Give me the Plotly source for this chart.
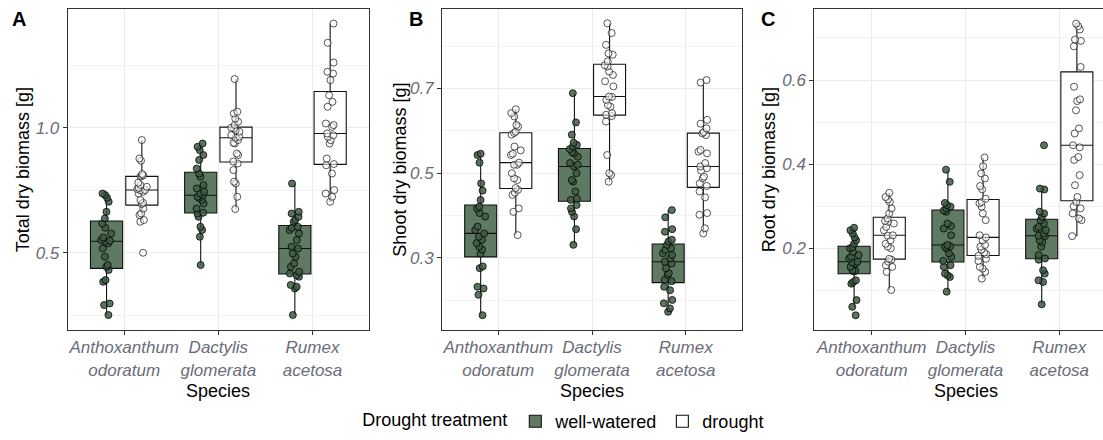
#!/usr/bin/env python3
# -*- coding:utf-8 -*-

from typing import List

import plotly.graph_objects as go


SPECIES        = ['Anthoxanthum odoratum', 'Dactylis glomerata', 'Rumex acetosa']
SPECIES_LABELS = ['Anthoxanthum<br>odoratum', 'Dactylis<br>glomerata', 'Rumex<br>acetosa']
TREATMENTS     = ['well-watered', 'drought']

PANEL_LETTERS  = ['A', 'B', 'C']
Y_TITLES       = ['Total dry biomass [g]', 'Shoot dry biomass [g]', 'Root dry biomass [g]']

#===== A: total dry biomass [g] =====#
TOTAL_WW_AO = [0.737, 0.731, 0.72, 0.704, 0.664, 0.637, 0.617, 0.60, 0.577, 0.561, 0.551, 0.548,
	0.544, 0.537, 0.517, 0.484, 0.451, 0.444, 0.431, 0.391, 0.384, 0.297, 0.291, 0.251]
TOTAL_DR_AO = [0.951, 0.877, 0.868, 0.815, 0.81, 0.807, 0.805, 0.78, 0.771, 0.764, 0.76, 0.755,
	0.751, 0.75, 0.744, 0.737, 0.711, 0.70, 0.695, 0.677, 0.657, 0.651, 0.631, 0.624, 0.50]
TOTAL_WW_DG = [0.937, 0.924, 0.911, 0.891, 0.871, 0.837, 0.817, 0.804, 0.771, 0.757, 0.744, 0.737,
	0.73, 0.724, 0.72, 0.711, 0.697, 0.677, 0.66, 0.657, 0.644, 0.604, 0.591, 0.564, 0.451]
TOTAL_DR_DG = [1.195, 1.064, 1.057, 1.037, 1.024, 1.011, 1.0, 0.997, 0.99, 0.984, 0.971, 0.964,
	0.96, 0.951, 0.94, 0.937, 0.897, 0.891, 0.865, 0.857, 0.831, 0.784, 0.777, 0.724, 0.675]
TOTAL_WW_RA = [0.777, 0.664, 0.657, 0.644, 0.631, 0.624, 0.604, 0.60, 0.591, 0.577, 0.551, 0.524,
	0.517, 0.497, 0.484, 0.457, 0.444, 0.424, 0.417, 0.41, 0.404, 0.371, 0.364, 0.357, 0.251]
TOTAL_DR_RA = [1.417, 1.34, 1.261, 1.224, 1.217, 1.191, 1.13, 1.104, 1.084, 1.017, 1.011, 1.004,
	0.977, 0.97, 0.964, 0.95, 0.937, 0.877, 0.855, 0.85, 0.817, 0.751, 0.737, 0.724, 0.704]

#===== B: shoot dry biomass [g] =====#
SHOOT_WW_AO = [0.546, 0.543, 0.525, 0.476, 0.459, 0.437, 0.421, 0.417, 0.406, 0.398, 0.374, 0.366,
	0.358, 0.35, 0.343, 0.335, 0.327, 0.32, 0.31, 0.28, 0.276, 0.232, 0.228, 0.213, 0.165]
SHOOT_DR_AO = [0.651, 0.642, 0.634, 0.614, 0.61, 0.598, 0.595, 0.591, 0.563, 0.554, 0.546, 0.543,
	0.525, 0.52, 0.52, 0.50, 0.488, 0.484, 0.465, 0.461, 0.454, 0.449, 0.417, 0.409, 0.354]
SHOOT_WW_DG = [0.689, 0.62, 0.591, 0.572, 0.567, 0.563, 0.557, 0.55, 0.547, 0.539, 0.524, 0.52,
	0.516, 0.50, 0.484, 0.48, 0.457, 0.44, 0.437, 0.425, 0.417, 0.409, 0.398, 0.368, 0.331]
SHOOT_DR_DG = [0.854, 0.831, 0.803, 0.783, 0.78, 0.764, 0.755, 0.752, 0.74, 0.732, 0.717, 0.705,
	0.681, 0.68, 0.673, 0.661, 0.657, 0.642, 0.638, 0.635, 0.622, 0.543, 0.50, 0.496, 0.48]
SHOOT_WW_RA = [0.413, 0.396, 0.368, 0.362, 0.343, 0.339, 0.331, 0.323, 0.319, 0.311, 0.307, 0.299,
	0.291, 0.287, 0.276, 0.264, 0.26, 0.248, 0.245, 0.232, 0.224, 0.201, 0.193, 0.181, 0.173]
SHOOT_DR_RA = [0.72, 0.714, 0.626, 0.617, 0.606, 0.597, 0.594, 0.59, 0.555, 0.551, 0.547, 0.524,
	0.516, 0.512, 0.506, 0.492, 0.488, 0.476, 0.47, 0.457, 0.443, 0.406, 0.402, 0.37, 0.358]

#===== C: root dry biomass [g] =====#
ROOT_WW_AO = [0.249, 0.243, 0.235, 0.226, 0.219, 0.211, 0.203, 0.2, 0.192, 0.184, 0.18, 0.176,
	0.168, 0.167, 0.164, 0.156, 0.148, 0.147, 0.145, 0.124, 0.12, 0.116, 0.077, 0.061, 0.041]
ROOT_DR_AO = [0.332, 0.322, 0.316, 0.31, 0.295, 0.283, 0.271, 0.265, 0.263, 0.259, 0.251, 0.243,
	0.231, 0.23, 0.219, 0.211, 0.204, 0.2, 0.173, 0.175, 0.168, 0.16, 0.156, 0.144, 0.101]
ROOT_WW_DG = [0.387, 0.358, 0.308, 0.303, 0.299, 0.295, 0.29, 0.287, 0.259, 0.253, 0.247, 0.231,
	0.208, 0.205, 0.204, 0.2, 0.188, 0.18, 0.17, 0.16, 0.156, 0.14, 0.136, 0.132, 0.097]
ROOT_DR_DG = [0.416, 0.395, 0.378, 0.366, 0.348, 0.34, 0.318, 0.31, 0.307, 0.299, 0.283, 0.267,
	0.231, 0.226, 0.219, 0.208, 0.204, 0.197, 0.19, 0.186, 0.182, 0.175, 0.17, 0.156, 0.152,
	0.144, 0.128]
ROOT_WW_RA = [0.445, 0.342, 0.34, 0.287, 0.283, 0.275, 0.267, 0.259, 0.251, 0.247, 0.243, 0.235,
	0.23, 0.229, 0.219, 0.215, 0.204, 0.184, 0.176, 0.173, 0.148, 0.14, 0.124, 0.12, 0.067]
ROOT_DR_RA = [0.734, 0.728, 0.72, 0.696, 0.693, 0.68, 0.631, 0.584, 0.554, 0.55, 0.528, 0.485,
	0.473, 0.445, 0.44, 0.417, 0.41, 0.374, 0.35, 0.322, 0.31, 0.3, 0.295, 0.283, 0.271, 0.267,
	0.229]


FONT       = 'Liberation Sans, Arial, sans-serif'
TICK_GREY  = '#6b6b78'
FRAME      = '#333333'
GRID       = '#ebebeb'

STYLES = {
	'well-watered': {
		'fill':   '#5e7a62',
		'marker': 'rgba(62,92,67,0.85)',
		'edge':   'rgba(0,0,0,0.85)',
	},
	'drought': {
		'fill':   '#ffffff',
		'marker': 'rgba(255,255,255,0.55)',
		'edge':   'rgba(20,20,20,0.8)',
	},
}

# pixel layout of the panels (figure is 1103 x 440)
FIG_W, FIG_H = 1103, 440
PANEL_X  = [(67.7, 369.0), (442.0, 742.0), (814.3, 1103.0)]
PANEL_Y  = (9.3, 330.0)
X_RANGES = [[-0.6, 2.6], [-0.6, 2.6], [-0.612, 2.466]]
Y_RANGES = [[0.191, 1.474], [0.130, 0.887], [0.006, 0.768]]
Y_TICKS  = [(0.0, 0.5, 0.25), (0.1, 0.2, 0.1), (0.0, 0.2, 0.1)]
LETTER_X = [19.3, 416.0, 767.5]
TITLE_X  = [22.5, 400.0, 768.5]


def AddText(
	fig: go.Figure,
	text: str,
	x: float,
	y: float,
	size: int,
	xref: str = 'paper',
	angle: float = 0,
) -> None:
	fig.add_annotation(
		text=text,
		xref=xref, yref='paper',
		x=x, y=y,
		xanchor='center', yanchor='middle',
		textangle=angle,
		showarrow=False,
		font=dict(family=FONT, size=size, color='black'),
	)


def AddPanel(
	fig: go.Figure,
	idx: int,
	groups: List[List[List[float]]],
) -> None:
	suffix = '' if idx == 0 else str(idx + 1)
	for treatment, perSpecies in zip(TREATMENTS, groups):
		xs, ys = [], []
		for name, vals in zip(SPECIES, perSpecies):
			xs += [name] * len(vals)
			ys += vals
		st = STYLES[treatment]
		fig.add_trace(go.Box(
			x=xs,
			y=ys,
			name=treatment,
			legendgroup=treatment,
			offsetgroup=treatment,
			showlegend=(idx == 0),
			boxpoints='all',
			pointpos=0,
			jitter=0.35,
			whiskerwidth=0,
			fillcolor=st['fill'],
			line=dict(color='#111111', width=1.1),
			marker=dict(
				size=7,
				color=st['marker'],
				line=dict(color=st['edge'], width=0.9),
			),
			xaxis='x' + suffix,
			yaxis='y' + suffix,
			hoverinfo='y',
		))

	x0, x1 = PANEL_X[idx]
	tick0, dtick, minor = Y_TICKS[idx]
	axisLine = dict(showline=True, linecolor=FRAME, linewidth=1, automargin=False,
		ticks='outside', ticklen=4, tickwidth=1, tickcolor=FRAME, zeroline=False)

	fig.update_layout({
		'xaxis' + suffix: dict(
			domain=[x0 / FIG_W, x1 / FIG_W],
			anchor='y' + suffix,
			type='category',
			range=X_RANGES[idx],
			tickmode='array',
			tickvals=SPECIES,
			ticktext=SPECIES_LABELS,
			tickangle=0,
			ticklabelstandoff=-2,
			tickfont=dict(family=FONT, size=17, color=TICK_GREY, style='italic'),
			showgrid=True, gridcolor=GRID, gridwidth=1.1,
			mirror=True,
			**axisLine,
		),
		'yaxis' + suffix: dict(
			domain=[1 - PANEL_Y[1] / FIG_H, 1 - PANEL_Y[0] / FIG_H],
			anchor='x' + suffix,
			range=Y_RANGES[idx],
			tickmode='linear',
			tick0=tick0,
			dtick=dtick,
			tickformat='.1f',
			tickfont=dict(family=FONT, size=17, color=TICK_GREY, style='italic'),
			showgrid=True, gridcolor=GRID, gridwidth=1.1,
			minor=dict(dtick=minor, showgrid=True, gridcolor='#f3f3f3', gridwidth=0.7, ticks=''),
			# last panel is cut at the right edge of the picture
			mirror=(idx < 2),
			**axisLine,
		),
	})

	AddText(fig, '<b>' + PANEL_LETTERS[idx] + '</b>', LETTER_X[idx] / FIG_W, 1 - 19 / FIG_H, 20)
	AddText(fig, Y_TITLES[idx], TITLE_X[idx] / FIG_W, 1 - sum(PANEL_Y) / 2 / FIG_H, 18, angle=-90)
	AddText(fig, 'Species', 1, 1 - 391 / FIG_H, 18, xref='x' + suffix)


def main() -> None:
	fig = go.Figure()

	panels = [
		[[TOTAL_WW_AO, TOTAL_WW_DG, TOTAL_WW_RA], [TOTAL_DR_AO, TOTAL_DR_DG, TOTAL_DR_RA]],
		[[SHOOT_WW_AO, SHOOT_WW_DG, SHOOT_WW_RA], [SHOOT_DR_AO, SHOOT_DR_DG, SHOOT_DR_RA]],
		[[ROOT_WW_AO, ROOT_WW_DG, ROOT_WW_RA], [ROOT_DR_AO, ROOT_DR_DG, ROOT_DR_RA]],
	]
	for i, groups in enumerate(panels):
		AddPanel(fig, i, groups)

	fig.update_layout(
		width=FIG_W,
		height=FIG_H,
		margin=dict(l=0, r=0, t=0, b=0),
		paper_bgcolor='white',
		plot_bgcolor='white',
		boxmode='group',
		boxgap=0.25,
		boxgroupgap=0.09,
		font=dict(family=FONT, size=18, color='black'),
		# legend kept fully inside the paper so it does not push the margins
		legend=dict(
			orientation='h',
			x=0.512, xanchor='center',
			y=0, yanchor='bottom',
			title=dict(text='Drought treatment', side='left', font=dict(size=18)),
			font=dict(size=18),
			bgcolor='rgba(0,0,0,0)',
		),
	)

	# drop the default page margin so the figure sits at the window corner
	fig.write_html(
		'out.html',
		config={'displayModeBar': False},
		post_script="document.body.style.margin='0px';document.body.style.overflow='hidden';",
	)


if __name__ == '__main__':
	main()
